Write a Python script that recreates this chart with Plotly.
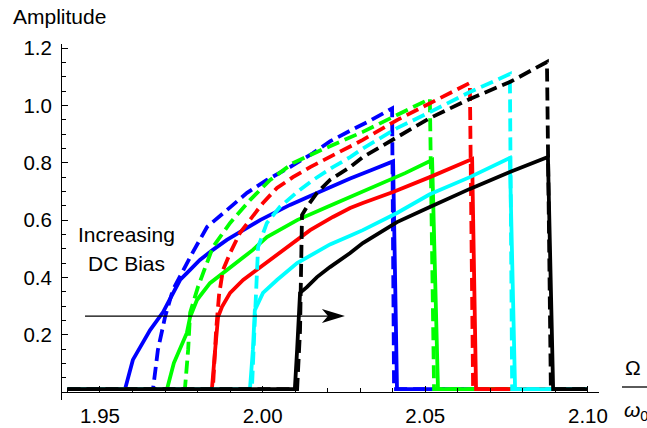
import numpy as np
import plotly.graph_objects as go

# Frequency response branches (Omega / omega_0 vs amplitude) for five DC bias levels.
# Each bias level has a lower (solid) and an upper (dashed) branch.
blue_solid_x = [1.9400, 1.9577, 1.9601, 1.9623, 1.9654, 1.9694, 1.9724, 1.9746, 1.9767, 1.9807,
                1.9847, 1.9890, 1.9992, 2.0084, 2.0167, 2.0207, 2.0269, 2.0335, 2.0401, 2.0413, 2.1000]
blue_solid_y = [0.010, 0.010, 0.112, 0.157, 0.216, 0.279, 0.346, 0.391, 0.415, 0.461,
                0.496, 0.531, 0.600, 0.653, 0.695, 0.716, 0.745, 0.775, 0.805, 0.010, 0.010]

blue_dash_x = [1.9400, 1.9663, 1.9678, 1.9700, 1.9724, 1.9755, 1.9786, 1.9829, 1.9890, 1.9952,
               2.0013, 2.0084, 2.0155, 2.0207, 2.0269, 2.0330, 2.0398, 2.0404, 2.1000]
blue_dash_y = [0.010, 0.010, 0.147, 0.262, 0.356, 0.426, 0.489, 0.576, 0.635, 0.695,
               0.740, 0.785, 0.834, 0.875, 0.912, 0.947, 0.990, 0.010, 0.010]

green_solid_x = [1.9400, 1.9706, 1.9727, 1.9752, 1.9767, 1.9777, 1.9798, 1.9838, 1.9900, 1.9970,
                 2.0013, 2.0106, 2.0198, 2.0269, 2.0361, 2.0438, 2.0521, 2.0539, 2.1000]
green_solid_y = [0.010, 0.010, 0.101, 0.164, 0.206, 0.262, 0.321, 0.380, 0.436, 0.496,
                 0.541, 0.600, 0.646, 0.681, 0.723, 0.764, 0.810, 0.010, 0.010]

green_dash_x = [1.9400, 1.9761, 1.9771, 1.9777, 1.9801, 1.9823, 1.9847, 1.9900, 1.9961, 2.0023,
                2.0093, 2.0167, 2.0238, 2.0308, 2.0413, 2.0514, 2.0527, 2.1000]
green_dash_y = [0.010, 0.010, 0.147, 0.276, 0.366, 0.436, 0.506, 0.590, 0.670, 0.740,
                0.799, 0.838, 0.873, 0.908, 0.967, 1.023, 0.010, 0.010]

red_solid_x = [1.9400, 1.9844, 1.9854, 1.9863, 1.9875, 1.9900, 1.9940, 2.0001, 2.0069, 2.0146,
               2.0216, 2.0269, 2.0308, 2.0401, 2.0514, 2.0644, 2.0656, 2.1000]
red_solid_y = [0.010, 0.010, 0.147, 0.262, 0.297, 0.346, 0.391, 0.443, 0.503, 0.565,
               0.611, 0.642, 0.660, 0.698, 0.750, 0.813, 0.010, 0.010]

red_dash_x = [1.9400, 1.9847, 1.9857, 1.9866, 1.9878, 1.9900, 1.9930, 1.9961, 2.0001, 2.0044,
              2.0093, 2.0146, 2.0207, 2.0308, 2.0413, 2.0514, 2.0637, 2.0647, 2.1000]
red_dash_y = [0.010, 0.010, 0.216, 0.339, 0.426, 0.485, 0.555, 0.600, 0.660, 0.712,
              0.750, 0.785, 0.820, 0.880, 0.949, 1.009, 1.079, 0.010, 0.010]

cyan_solid_x = [1.9400, 1.9961, 1.9970, 1.9976, 2.0001, 2.0044, 2.0106, 2.0167, 2.0207, 2.0269,
                2.0308, 2.0413, 2.0514, 2.0637, 2.0760, 2.0776, 2.1000]
cyan_solid_y = [0.010, 0.010, 0.147, 0.286, 0.346, 0.391, 0.450, 0.489, 0.515, 0.545,
                0.565, 0.625, 0.690, 0.750, 0.817, 0.010, 0.010]

cyan_dash_x = [1.9400, 1.9967, 1.9976, 1.9983, 1.9986, 2.0013, 2.0053, 2.0106, 2.0155, 2.0216,
               2.0269, 2.0308, 2.0413, 2.0514, 2.0637, 2.0760, 2.0767, 2.1000]
cyan_dash_y = [0.010, 0.010, 0.251, 0.415, 0.506, 0.590, 0.646, 0.698, 0.740, 0.785,
               0.820, 0.850, 0.921, 0.977, 1.047, 1.110, 0.010, 0.010]

black_solid_x = [1.9400, 2.0099, 2.0106, 2.0115, 2.0136, 2.0167, 2.0207, 2.0269, 2.0308, 2.0413,
                 2.0514, 2.0637, 2.0760, 2.0877, 2.0893, 2.1000]
black_solid_y = [0.010, 0.010, 0.147, 0.346, 0.366, 0.401, 0.436, 0.485, 0.520, 0.593,
                 0.646, 0.709, 0.768, 0.820, 0.010, 0.010]

black_dash_x = [1.9400, 2.0106, 2.0115, 2.0121, 2.0136, 2.0167, 2.0207, 2.0269, 2.0308, 2.0413,
                2.0514, 2.0637, 2.0760, 2.0874, 2.0886, 2.1000]
black_dash_y = [0.010, 0.010, 0.216, 0.618, 0.646, 0.695, 0.740, 0.785, 0.820, 0.890,
                0.956, 1.023, 1.082, 1.152, 0.010, 0.010]

x_tick_vals = [1.95, 2.00, 2.05, 2.10]
x_tick_text = ["1.95", "2.00", "2.05", "2.10"]
y_tick_vals = [0.2, 0.4, 0.6, 0.8, 1.0, 1.2]
y_tick_text = ["0.2", "0.4", "0.6", "0.8", "1.0", "1.2"]

# ---- figure geometry ----
W, H = 647, 428
ML, MR, MT, MB = 62, 48, 44, 28
X_MIN, X_MAX = 1.93832, 2.10340
Y_MIN, Y_MAX = -0.0279, 1.2147
X_AXIS_POS = (0 - Y_MIN) / (Y_MAX - Y_MIN)
PW, PH = W - ML - MR, H - MT - MB


def px_to_paper(px, py):
    return (px - ML) / PW, (H - MB - py) / PH


FONT = "Liberation Sans, Arial, sans-serif"
LW = 3.8
DASH = "13px,6px"

fig = go.Figure()

series = [
    (blue_solid_x, blue_solid_y, "#0000ff", "solid"),
    (blue_dash_x, blue_dash_y, "#0000ff", DASH),
    (green_solid_x, green_solid_y, "#00ff00", "solid"),
    (green_dash_x, green_dash_y, "#00ff00", DASH),
    (red_solid_x, red_solid_y, "#ff0000", "solid"),
    (red_dash_x, red_dash_y, "#ff0000", DASH),
    (cyan_solid_x, cyan_solid_y, "#00ffff", "solid"),
    (cyan_dash_x, cyan_dash_y, "#00ffff", DASH),
    (black_solid_x, black_solid_y, "#000000", "solid"),
    (black_dash_x, black_dash_y, "#000000", DASH),
]
for xs, ys, col, dash in series:
    fig.add_trace(go.Scatter(x=xs, y=ys, mode="lines",
                             line=dict(color=col, width=LW, dash=dash),
                             showlegend=False, hoverinfo="skip"))

# Arrow indicating increasing DC bias
ARROW_X0, ARROW_X1, ARROW_Y = 1.9454, 2.0253, 0.265
fig.add_shape(type="line", xref="x", yref="y", x0=ARROW_X0, x1=ARROW_X1 - 0.004,
              y0=ARROW_Y, y1=ARROW_Y, line=dict(color="black", width=1.3))
fig.add_shape(type="path", xref="x", yref="y", xsizemode="pixel", ysizemode="pixel",
              xanchor=ARROW_X1, yanchor=ARROW_Y,
              path="M0,0 L-23,7 L-17,0 L-23,-7 Z",
              fillcolor="black", line=dict(width=0))

# Fraction bar of the x-axis label
bx0, by = px_to_paper(622, 387)
bx1, _ = px_to_paper(650, 387)
fig.add_shape(type="line", xref="paper", yref="paper", x0=bx0, x1=bx1, y0=by, y1=by,
              line=dict(color="black", width=1.3))

txt = dict(family=FONT, size=21, color="black")
fig.add_annotation(text="Increasing", x=1.9583, y=0.550, xref="x", yref="y",
                   showarrow=False, font=txt, xanchor="center", yanchor="middle")
fig.add_annotation(text="DC Bias", x=1.9583, y=0.447, xref="x", yref="y",
                   showarrow=False, font=txt, xanchor="center", yanchor="middle")
ax_, ay_ = px_to_paper(11, 16)
fig.add_annotation(text="Amplitude", x=ax_, y=ay_, xref="paper", yref="paper",
                   showarrow=False, font=txt, xanchor="left", yanchor="middle")
ox, oy = px_to_paper(633, 367)
fig.add_annotation(text="Ω", x=ox, y=oy, xref="paper", yref="paper", showarrow=False,
                   font=txt, xanchor="center", yanchor="middle")
wx, wy = px_to_paper(622, 411)
fig.add_annotation(text="<i>ω</i><sub>0</sub>", x=wx, y=wy, xref="paper", yref="paper",
                   showarrow=False, font=txt, xanchor="left", yanchor="middle")

tickfont = dict(family=FONT, size=20.5, color="black")
fig.update_xaxes(range=[X_MIN, X_MAX], anchor="free", position=X_AXIS_POS, automargin=False,
                 showline=True, linecolor="black", linewidth=1,
                 ticks="inside", ticklen=6, tickwidth=1, tickcolor="black",
                 tickmode="array", tickvals=x_tick_vals, ticktext=x_tick_text,
                 tickfont=tickfont, ticklabelstandoff=5,
                 minor=dict(tickmode="array", tickvals=list(np.round(np.arange(1.94, 2.101, 0.01), 2)),
                            ticks="inside", ticklen=4, tickwidth=1, tickcolor="black", showgrid=False),
                 showgrid=False, zeroline=False)
fig.update_yaxes(range=[Y_MIN, Y_MAX], automargin=False,
                 showline=True, linecolor="black", linewidth=1,
                 ticks="inside", ticklen=6, tickwidth=1, tickcolor="black",
                 tickmode="array", tickvals=y_tick_vals, ticktext=y_tick_text,
                 tickfont=tickfont, ticklabelstandoff=5,
                 minor=dict(tickmode="array", tickvals=list(np.round(np.arange(0.05, 1.21, 0.05), 2)),
                            ticks="inside", ticklen=4, tickwidth=1, tickcolor="black", showgrid=False),
                 showgrid=False, zeroline=False)

fig.update_layout(template="none", width=W, height=H, margin=dict(l=ML, r=MR, t=MT, b=MB),
                  plot_bgcolor="white", paper_bgcolor="white",
                  font=dict(family=FONT, color="black"), showlegend=False)

fig.write_html("out.html")
